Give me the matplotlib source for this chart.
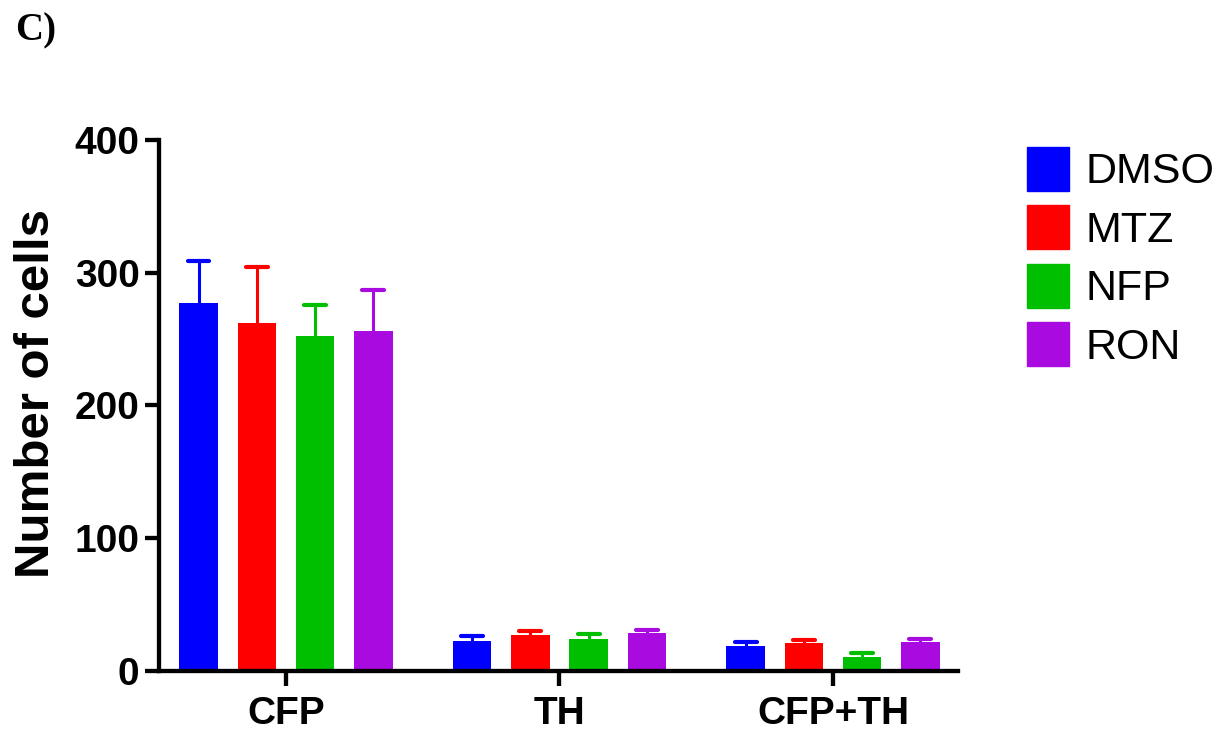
import numpy as np
import matplotlib.pyplot as plt
from matplotlib.patches import Patch

groups = ["CFP", "TH", "CFP+TH"]
treatments = ["DMSO", "MTZ", "NFP", "RON"]
colors = ["#0000FF", "#FF0000", "#00BF00", "#A80AE0"]

# mean values per treatment, one entry per group
means = {
    "DMSO": [277.5, 22.5, 18.6],
    "MTZ": [262.2, 27.3, 21.3],
    "NFP": [252.2, 23.8, 10.8],
    "RON": [256.0, 28.6, 21.6],
}
# upper error (SEM) per treatment
errors = {
    "DMSO": [31.0, 3.8, 3.5],
    "MTZ": [42.0, 2.5, 2.3],
    "NFP": [23.4, 4.3, 2.5],
    "RON": [31.3, 2.5, 2.7],
}


def create_graph():
    plt.rcParams['font.family'] = ['Liberation Sans', 'DejaVu Sans']
    fig = plt.figure(figsize=(12.25, 7.34), dpi=100)
    ax = fig.add_axes([0.1298, 0.0858, 0.6522, 0.7235])

    x = np.arange(len(groups))
    slot = 0.213
    width = 0.141
    cap = 0.04
    for i, (name, c) in enumerate(zip(treatments, colors)):
        pos = x + (i - 1.5) * slot
        m = np.array(means[name])
        top = m + np.array(errors[name])
        ax.bar(pos, m, width=width, color=c, zorder=2)
        # upper error only: stem + cap
        ax.vlines(pos, m, top, colors=c, linewidth=2.2, zorder=1)
        ax.hlines(top, pos - cap, pos + cap, colors=c, linewidth=3,
                  capstyle='round', zorder=1)

    ax.set_xlim(-0.464, 2.457)
    ax.set_ylim(0, 400)
    ax.set_yticks([0, 100, 200, 300, 400])
    ax.set_xticks(x)
    ax.set_xticklabels(groups)
    for sp in ['top', 'right']:
        ax.spines[sp].set_visible(False)
    for sp in ['left', 'bottom']:
        ax.spines[sp].set_linewidth(3.1)
    ax.tick_params(axis='both', width=3.1, labelsize=28)
    ax.tick_params(axis='y', length=10, pad=4)
    ax.tick_params(axis='x', length=11, pad=7)
    for lab in ax.get_xticklabels() + ax.get_yticklabels():
        lab.set_fontweight('bold')
    ax.set_ylabel("Number of cells", fontsize=35.5, fontweight='bold')
    ax.yaxis.set_label_coords(-0.125, 0.523)

    handles = [Patch(color=c, label=n) for n, c in zip(treatments, colors)]
    fig.legend(handles=handles, loc='upper left', bbox_to_anchor=(0.838, 0.80),
               frameon=False, fontsize=31, handlelength=0.98, handleheight=1.2,
               handletextpad=0.38, labelspacing=0.3, borderpad=0, borderaxespad=0)

    fig.text(0.012, 0.983, "C)", fontsize=28, fontweight='bold',
             family=['Liberation Serif', 'DejaVu Serif'], va='top', ha='left')
    fig.savefig("out.png", dpi=100)


def main():
    create_graph()


if __name__ == '__main__':
    main()
